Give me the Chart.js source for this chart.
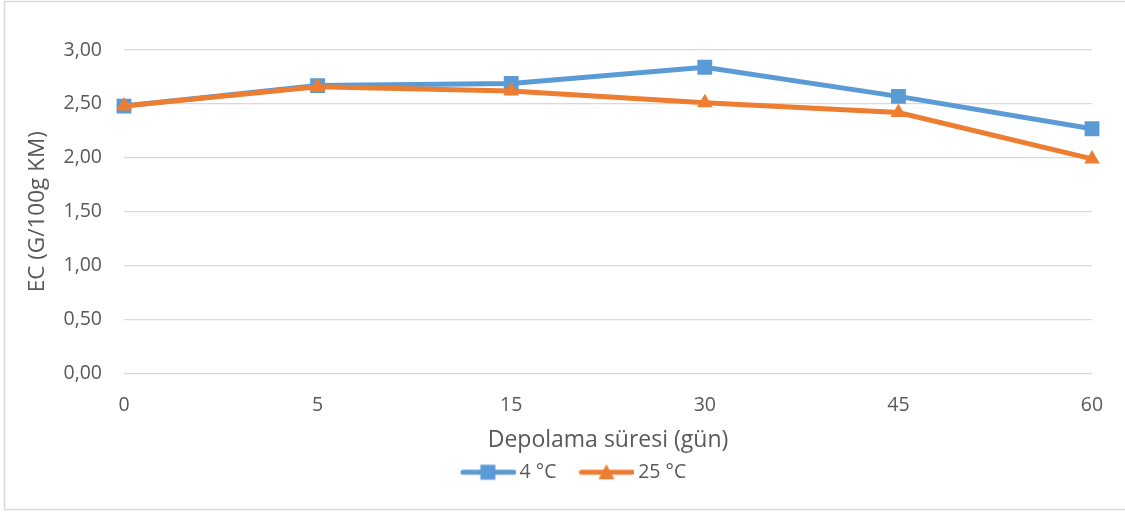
<!DOCTYPE html>
<html>
<head>
<meta charset="utf-8">
<script src="https://cdn.jsdelivr.net/npm/chart.js@4/dist/chart.umd.min.js"></script>
<style>
html,body{margin:0;padding:0;background:#fff;}
#wrap{position:absolute;left:0;top:0;width:1125px;height:512px;}
</style>
</head>
<body>
<div id="wrap"><canvas id="c" width="1125" height="512"></canvas></div>
<script>
const categories = ['0', '5', '15', '30', '45', '60'];
const series4C = [2.48, 2.67, 2.69, 2.84, 2.57, 2.27];
const series25C = [2.48, 2.66, 2.62, 2.51, 2.42, 1.99];
const seriesNames = ['4 °C', '25 °C'];
const yTicks = [0, 0.5, 1, 1.5, 2, 2.5, 3];
const xTitle = 'Depolama süresi (gün)';
const yTitle = 'EC (G/100g KM)';

const BLUE = '#5b9bd5', ORANGE = '#ed7d31';
const FONT = "'Open Sans', 'Liberation Sans', sans-serif";
const LEG_W = 50, LEG_E = 6;

function legendImage(color, marker) {
  const e = LEG_E;
  const cv = document.createElement('canvas');
  cv.width = LEG_W + 2 * e; cv.height = 18;
  const g = cv.getContext('2d');
  g.strokeStyle = color; g.lineWidth = 5; g.lineCap = 'round';
  g.beginPath(); g.moveTo(e + 3, 9); g.lineTo(LEG_W + 2 * e - 2, 9); g.stroke();
  g.fillStyle = color;
  const cx = (e + LEG_W + 2 * e) / 2;
  if (marker === 'rect') {
    g.fillRect(cx - 7.5, 1.5, 15, 15);
  } else {
    g.beginPath(); g.moveTo(cx, 1); g.lineTo(cx + 8, 16); g.lineTo(cx - 8, 16); g.closePath(); g.fill();
  }
  return cv;
}
const legendImgs = [legendImage(BLUE, 'rect'), legendImage(ORANGE, 'triangle')];

const borderPlugin = {
  id: 'frame',
  beforeDraw(chart) {
    const ctx = chart.ctx;
    ctx.save();
    ctx.fillStyle = '#fff';
    ctx.fillRect(0, 0, chart.width, chart.height);
    ctx.strokeStyle = '#d9d9d9';
    ctx.lineWidth = 1.5;
    ctx.strokeRect(4.5, 1.5, 1130, 508);
    ctx.restore();
  }
};

new Chart(document.getElementById('c'), {
  type: 'line',
  data: {
    labels: categories,
    datasets: [
      {
        label: seriesNames[0], data: series4C,
        borderColor: BLUE, backgroundColor: BLUE,
        borderWidth: 5, pointStyle: 'rect', pointRadius: 10.5,
        pointHoverRadius: 10.5, pointBorderWidth: 0, order: 2, tension: 0
      },
      {
        label: seriesNames[1], data: series25C,
        borderColor: ORANGE, backgroundColor: ORANGE,
        borderWidth: 5, pointStyle: 'triangle', pointRadius: 9,
        pointHoverRadius: 9, pointBorderWidth: 0, order: 1, tension: 0
      }
    ]
  },
  options: {
    responsive: false,
    animation: false,
    layout: { padding: { left: 54, right: 33, top: 50, bottom: 20 } },
    plugins: {
      tooltip: { enabled: false },
      legend: {
        position: 'bottom',
        labels: {
          usePointStyle: true,
          pointStyleWidth: LEG_W,
          padding: 22,
          color: '#595959',
          font: { family: FONT, size: 19.5 },
          generateLabels(chart) {
            return chart.data.datasets.map((ds, i) => ({
              text: ds.label, pointStyle: legendImgs[i], fillStyle: ds.borderColor,
              strokeStyle: ds.borderColor, lineWidth: 0, hidden: false, datasetIndex: i,
              fontColor: '#595959'
            }));
          }
        }
      }
    },
    scales: {
      x: {
        type: 'category',
        offset: false,
        grid: { display: false, drawTicks: false },
        border: { display: false },
        ticks: { color: '#595959', font: { family: FONT, size: 19.5 }, padding: 20, maxRotation: 0 },
        title: { display: true, text: xTitle, color: '#595959', font: { family: FONT, size: 23 }, padding: { top: 0, bottom: -14 } },
        afterFit(s) { s.height = 67; }
      },
      y: {
        min: 0, max: 3,
        afterBuildTicks(s) { s.ticks = yTicks.map(v => ({ value: v })); },
        grid: { color: '#d9d9d9', lineWidth: 1.3, drawTicks: false },
        border: { display: false },
        ticks: {
          color: '#595959', font: { family: FONT, size: 19.5 }, padding: 22,
          callback: v => Number(v).toFixed(2).replace('.', ',')
        },
        title: { display: true, text: yTitle, color: '#595959', font: { family: FONT, size: 22.5 }, padding: { top: -30, bottom: 0 } },
        afterFit(s) { s.width = 70; }
      }
    }
  },
  plugins: [borderPlugin]
});
</script>
</body>
</html>
